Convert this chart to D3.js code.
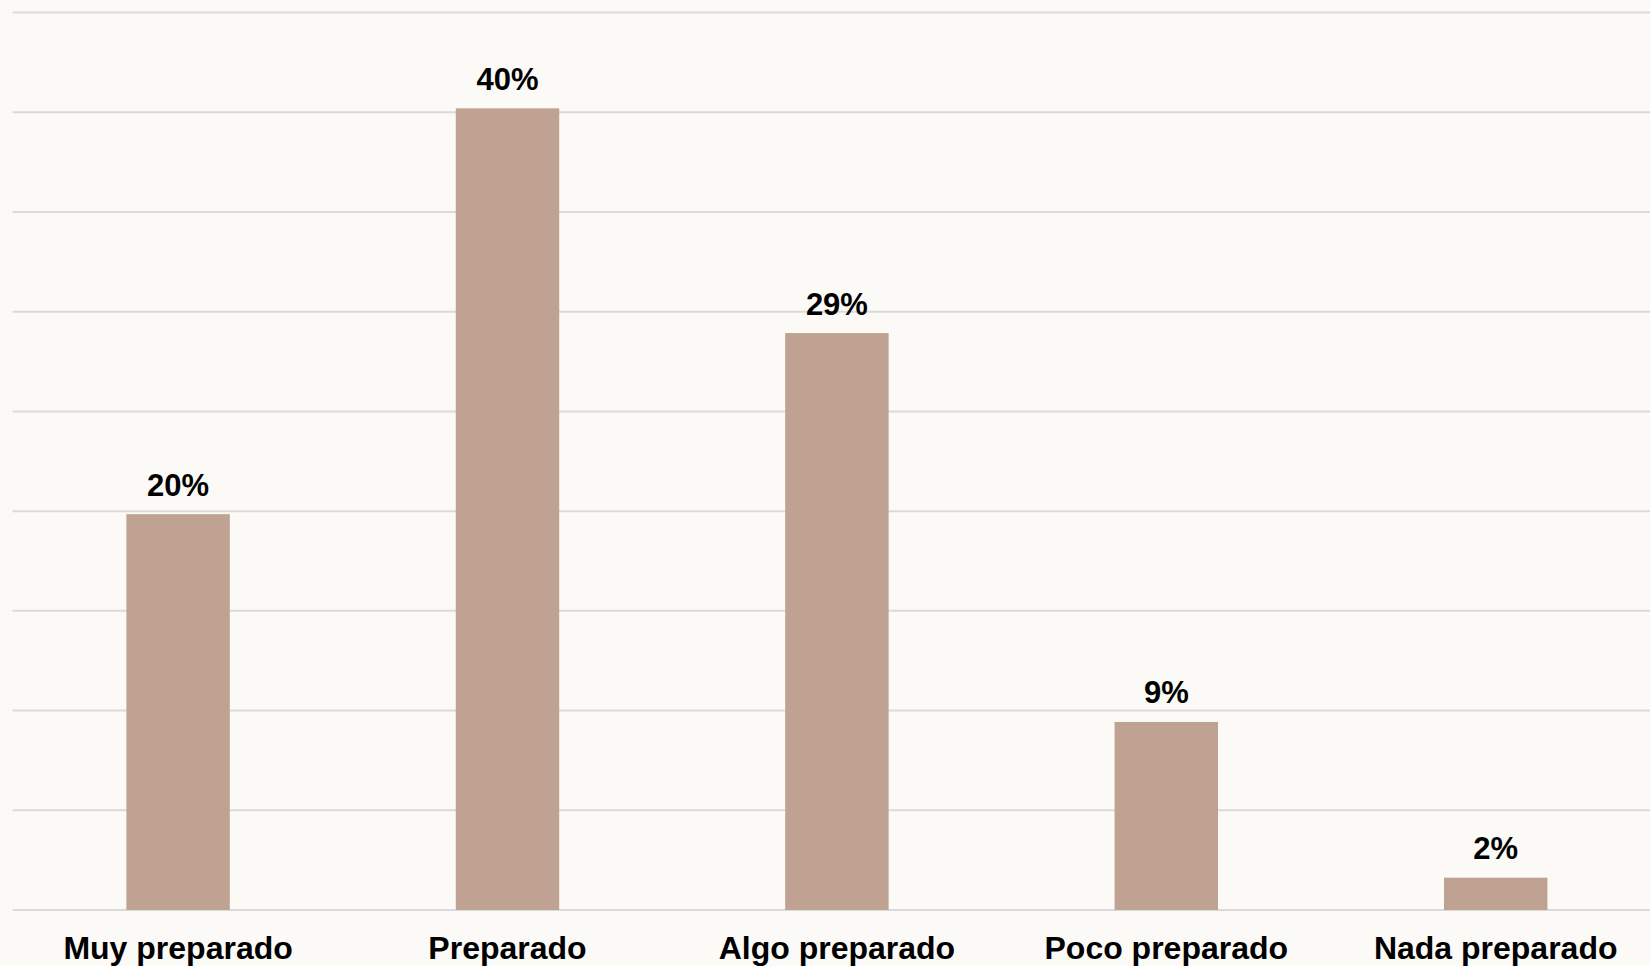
<!DOCTYPE html>
<html>
<head>
<meta charset="utf-8">
<script src="https://cdn.jsdelivr.net/npm/d3@7"></script>
<style>
  html, body { margin: 0; padding: 0; background: #fbfaf7; overflow: hidden; }
  svg { display: block; }
</style>
</head>
<body>
<svg id="chart" width="1650" height="966"></svg>
<script>
const categories = ["Muy preparado", "Preparado", "Algo preparado", "Poco preparado", "Nada preparado"];
const values = [19.85, 40.2, 28.93, 9.43, 1.62];
const gridTicks = [0, 5, 10, 15, 20, 25, 30, 35, 40, 45];

const W = 1650, H = 966;
const svg = d3.select("#chart");

svg.append("rect").attr("width", W).attr("height", H).attr("fill", "#fbfaf7");

const x = d3.scaleBand().domain(categories).range([13.4, 1660.4]).paddingInner(0.686).paddingOuter(0.343);
const y = d3.scaleLinear().domain([0, 45]).range([910, 12.6]);

// gridlines
svg.append("g").selectAll("line").data(gridTicks).join("line")
  .attr("x1", 12.6).attr("x2", W)
  .attr("y1", d => y(d)).attr("y2", d => y(d))
  .attr("stroke", "#dadada").attr("stroke-width", 2);

const data = categories.map((c, i) => ({ c, v: values[i] }));

svg.append("g").selectAll("rect").data(data).join("rect")
  .attr("x", d => x(d.c)).attr("width", x.bandwidth())
  .attr("y", d => y(d.v)).attr("height", d => y(0) - y(d.v))
  .attr("fill", "#bfa291");

const fmt = d3.format(".0f");
svg.append("g").selectAll("text").data(data).join("text")
  .attr("x", d => x(d.c) + x.bandwidth() / 2)
  .attr("y", d => y(d.v) - 18.5)
  .attr("text-anchor", "middle")
  .attr("font-family", "Liberation Sans, Arial, sans-serif")
  .attr("font-weight", "bold").attr("font-size", 31)
  .attr("fill", "#000")
  .text(d => fmt(d.v) + "%");

svg.append("g").selectAll("text").data(categories).join("text")
  .attr("x", d => x(d) + x.bandwidth() / 2)
  .attr("y", 959)
  .attr("text-anchor", "middle")
  .attr("font-family", "Liberation Sans, Arial, sans-serif")
  .attr("font-weight", "bold").attr("font-size", 32)
  .attr("fill", "#000")
  .text(d => d);
</script>
</body>
</html>
